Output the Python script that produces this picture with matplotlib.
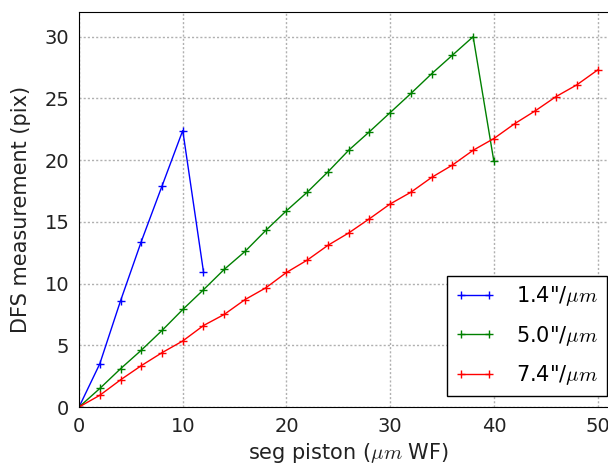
import matplotlib
matplotlib.use("Agg")
import matplotlib.pyplot as plt

plt.rcParams["mathtext.fontset"] = "cm"
plt.rcParams["font.family"] = "DejaVu Sans"

# data
x_blue = [0, 2, 4, 6, 8, 10, 12]
y_blue = [0, 3.5, 8.6, 13.4, 17.9, 22.4, 10.95]

x_green = list(range(0, 42, 2))
y_green = [0, 1.5, 3.1, 4.6, 6.2, 7.9, 9.5, 11.15, 12.6, 14.3, 15.9,
           17.4, 19.05, 20.8, 22.3, 23.85, 25.4, 27.0, 28.5, 30.0, 19.9]

x_red = list(range(0, 52, 2))
y_red = [0, 0.95, 2.2, 3.35, 4.4, 5.35, 6.6, 7.5, 8.7, 9.65, 10.9,
         11.9, 13.1, 14.1, 15.25, 16.45, 17.4, 18.6, 19.6, 20.8, 21.75,
         22.95, 24.0, 25.15, 26.1, 27.3]

labels = ['1.4"/$\\mu m$', '5.0"/$\\mu m$', '7.4"/$\\mu m$']

fig = plt.figure(figsize=(6.08, 4.65), dpi=100)
ax = fig.add_axes([0.13, 0.1247, 0.887, 0.8495])

ax.plot(x_blue, y_blue, color="blue", marker="+", ms=6, lw=1, label=labels[0])
ax.plot(x_green, y_green, color="green", marker="+", ms=6, lw=1, label=labels[1])
ax.plot(x_red, y_red, color="red", marker="+", ms=6, lw=1, label=labels[2])

ax.set_xlim(0, 52)
ax.set_ylim(0, 32)
ax.set_xticks([0, 10, 20, 30, 40, 50])
ax.set_yticks([0, 5, 10, 15, 20, 25, 30])
ax.grid(True, color="#b0b0b0", linestyle=(0, (1.5, 1.5)), linewidth=1)
ax.tick_params(length=0, labelsize=14, pad=7, labelcolor="#222222")

ax.set_xlabel("seg piston ($\\mu m$ WF)", fontsize=15, color="#222222", labelpad=4)
ax.set_ylabel("DFS measurement (pix)", fontsize=15, color="#222222", labelpad=10)

leg = ax.legend(loc="lower right", fontsize=15, numpoints=2, fancybox=False,
                framealpha=1, edgecolor="black", borderaxespad=0.55,
                labelspacing=0.75, handlelength=1.95, handletextpad=1.0)
leg.get_frame().set_linewidth(1)

fig.savefig("out.png", dpi=100)
